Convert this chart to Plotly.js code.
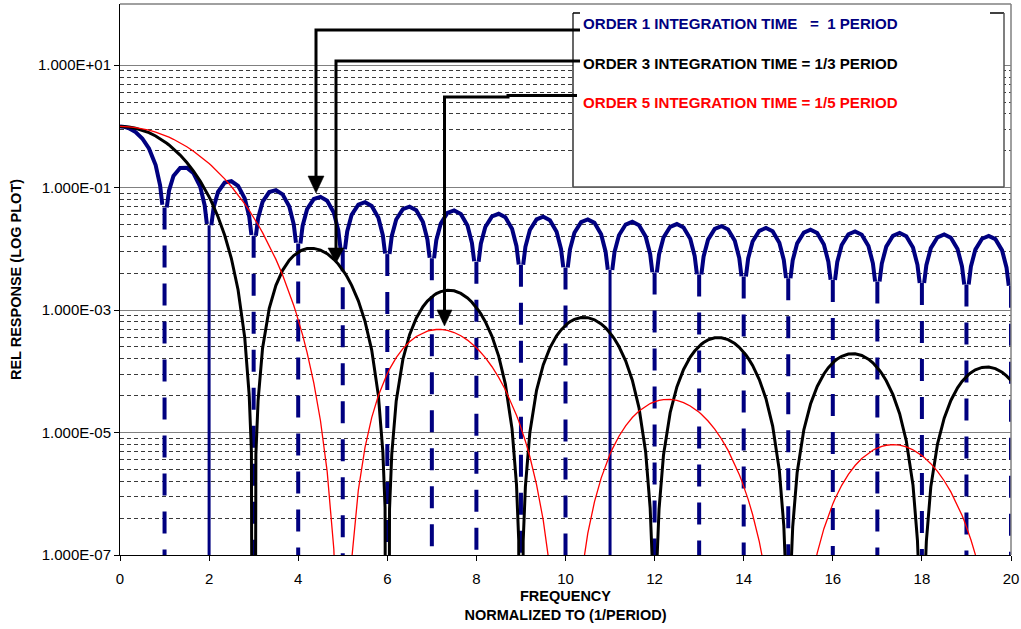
<!DOCTYPE html>
<html>
<head>
<meta charset="utf-8">
<script src="https://cdn.plot.ly/plotly-3.0.1.min.js"></script>
<style>
html,body{margin:0;padding:0;background:#ffffff;}
#chart{width:1021px;height:629px;}
</style>
</head>
<body>
<div id="chart"></div>
<script>
// ---------------- DATA ----------------
const freq = [
0,0.05,0.1,0.2,0.35,0.5,0.65,0.8,0.9,0.95,
1,1.05,1.1,1.2,1.35,1.5,1.65,1.8,1.9,1.95,
2,2.05,2.1,2.2,2.35,2.5,2.65,2.8,2.9,2.95,
3,3.05,3.1,3.2,3.35,3.5,3.65,3.8,3.9,3.95,
4,4.05,4.1,4.2,4.35,4.5,4.65,4.8,4.9,4.95,
5,5.05,5.1,5.2,5.35,5.5,5.65,5.8,5.9,5.95,
6,6.05,6.1,6.2,6.35,6.5,6.65,6.8,6.9,6.95,
7,7.05,7.1,7.2,7.35,7.5,7.65,7.8,7.9,7.95,
8,8.05,8.1,8.2,8.35,8.5,8.65,8.8,8.9,8.95,
9,9.05,9.1,9.2,9.35,9.5,9.65,9.8,9.9,9.95,
10,10.05,10.1,10.2,10.35,10.5,10.65,10.8,10.9,10.95,
11,11.05,11.1,11.2,11.35,11.5,11.65,11.8,11.9,11.95,
12,12.05,12.1,12.2,12.35,12.5,12.65,12.8,12.9,12.95,
13,13.05,13.1,13.2,13.35,13.5,13.65,13.8,13.9,13.95,
14,14.05,14.1,14.2,14.35,14.5,14.65,14.8,14.9,14.95,
15,15.05,15.1,15.2,15.35,15.5,15.65,15.8,15.9,15.95,
16,16.05,16.1,16.2,16.35,16.5,16.65,16.8,16.9,16.95,
17,17.05,17.1,17.2,17.35,17.5,17.65,17.8,17.9,17.95,
18,18.05,18.1,18.2,18.35,18.5,18.65,18.8,18.9,18.95,
19,19.05,19.1,19.2,19.35,19.5,19.65,19.8,19.9,19.95,
20];

// ORDER 1 (integration time = 1 period)
const order1 = [
1,0.9959,0.9836,0.9355,0.8103,0.6366,0.4363,0.2339,0.1093,0.05241,
1e-20,0.04742,0.08942,0.1559,0.2101,0.2122,0.1719,0.1039,0.05177,0.02554,
1e-20,0.02429,0.04684,0.08505,0.1207,0.1273,0.1070,0.06682,0.03392,0.01688,
1e-20,0.01633,0.03173,0.05847,0.08466,0.09095,0.07770,0.04924,0.02522,0.01261,
1e-20,0.01229,0.02399,0.04455,0.06520,0.07074,0.06099,0.03898,0.02007,0.01006,
1e-20,0.00986,0.01929,0.03598,0.05301,0.05787,0.05020,0.03226,0.01667,0.00837,
1e-20,0.00823,0.01613,0.03018,0.04466,0.04897,0.04265,0.02751,0.01426,0.00716,
1e-20,0.00706,0.01385,0.02599,0.03859,0.04244,0.03707,0.02399,0.01245,0.00626,
1e-20,0.00619,0.01214,0.02282,0.03397,0.03745,0.03279,0.02126,0.01105,0.00556,
1e-20,0.00550,0.01081,0.02034,0.03033,0.03351,0.02939,0.01909,0.00994,0.00500,
1e-20,0.00495,0.00974,0.01834,0.02740,0.03032,0.02663,0.01732,0.00902,0.00455,
1e-20,0.00451,0.00886,0.01671,0.02499,0.02768,0.02434,0.01586,0.00827,0.00417,
1e-20,0.00413,0.00813,0.01534,0.02297,0.02546,0.02242,0.01462,0.00763,0.00385,
1e-20,0.00382,0.00751,0.01417,0.02124,0.02358,0.02078,0.01356,0.00708,0.00357,
1e-20,0.00354,0.00698,0.01318,0.01976,0.02195,0.01936,0.01264,0.00660,0.00333,
1e-20,0.00331,0.00651,0.01231,0.01848,0.02054,0.01812,0.01184,0.00619,0.00312,
1e-20,0.00310,0.00611,0.01155,0.01735,0.01929,0.01703,0.01114,0.00582,0.00294,
1e-20,0.00292,0.00575,0.01088,0.01635,0.01819,0.01607,0.01051,0.00550,0.00277,
1e-20,0.00276,0.00543,0.01028,0.01546,0.01721,0.01521,0.00995,0.00520,0.00263,
1e-20,0.00261,0.00515,0.00974,0.01466,0.01632,0.01443,0.00945,0.00494,0.00250,
1e-20];

// ORDER 3 (integration time = 1/3 period)
const order3 = [
1,0.9986,0.9945,0.9783,0.9348,0.8708,0.7903,0.6980,0.6325,0.5991,
0.5656,0.5321,0.4988,0.4335,0.3410,0.2580,0.1868,0.1284,0.09679,0.08307,
0.07070,0.05963,0.04979,0.03356,0.01672,0.006966,0.002154,3.565e-4,4.078e-5,4.863e-6,
1e-20,4.400e-6,3.338e-5,2.388e-4,1.066e-3,2.539e-3,4.463e-3,6.513e-3,7.773e-3,8.335e-3,
8.837e-3,9.272e-3,9.633e-3,1.011e-2,1.019e-2,9.556e-3,8.345e-3,6.773e-3,5.643e-3,5.079e-3,
4.525e-3,3.989e-3,3.476e-3,2.542e-3,1.417e-3,6.542e-4,2.222e-4,4.011e-5,4.842e-6,5.926e-7,
1e-20,5.637e-7,4.382e-6,3.284e-5,1.565e-4,3.964e-4,7.380e-4,1.137e-3,1.404e-3,1.530e-3,
1.649e-3,1.758e-3,1.855e-3,2.007e-3,2.113e-3,2.064e-3,1.874e-3,1.579e-3,1.347e-3,1.226e-3,
1.105e-3,9.847e-4,8.676e-4,6.482e-4,3.728e-4,1.772e-4,6.192e-5,1.148e-5,1.411e-6,1.741e-7,
1e-20,1.684e-7,1.320e-6,1.005e-5,4.903e-5,1.270e-4,2.415e-4,3.797e-4,4.752e-4,5.215e-4,
5.656e-4,6.068e-4,6.444e-4,7.059e-4,7.568e-4,7.522e-4,6.946e-4,5.947e-4,5.127e-4,4.692e-4,
4.249e-4,3.807e-4,3.372e-4,2.544e-4,1.484e-4,7.157e-5,2.535e-5,4.764e-6,5.902e-7,7.315e-8,
1e-20,7.134e-8,5.614e-7,4.310e-6,2.128e-5,5.573e-5,1.072e-4,1.704e-4,2.148e-4,2.365e-4,
2.574e-4,2.772e-4,2.953e-4,3.257e-4,3.526e-4,3.539e-4,3.299e-4,2.850e-4,2.472e-4,2.269e-4,
2.061e-4,1.852e-4,1.645e-4,1.248e-4,7.345e-5,3.571e-5,1.275e-5,2.414e-6,3.006e-7,3.736e-8,
1e-20,3.662e-8,2.889e-7,2.229e-6,1.108e-5,2.923e-5,5.662e-5,9.061e-5,1.147e-4,1.266e-4,
1.381e-4,1.490e-4,1.591e-4,1.762e-4,1.920e-4,1.938e-4,1.818e-4,1.580e-4,1.375e-4,1.265e-4,
1.151e-4,1.036e-4,9.221e-5,7.024e-5,4.155e-5,2.031e-5,7.289e-6,1.388e-6,1.734e-7,2.158e-8,
1e-20,2.123e-8,1.677e-7,1.298e-6,6.486e-6,1.719e-5,3.346e-5,5.378e-5,6.830e-5,7.548e-5,
8.246e-5,8.910e-5,9.528e-5,1.058e-4,1.158e-4,1.174e-4,1.106e-4,9.650e-5,8.425e-5,7.758e-5,
7.070e-5];

// ORDER 5 (integration time = 1/5 period)
const order5 = [
1,0.99918,0.99672,0.98690,0.96044,0.92079,0.86955,0.80868,0.76385,0.74043,
0.71646,0.69201,0.66723,0.61689,0.54081,0.46605,0.39449,0.32777,0.28657,0.26706,
0.24830,0.23033,0.21315,0.18121,0.13935,0.10457,0.076423,0.054263,0.042442,0.037326,
0.032698,0.028528,0.024786,0.018459,0.011435,0.0067383,0.0037433,0.0019374,0.0011910,9.1848e-4,
6.9966e-4,5.2581e-4,3.8933e-4,2.0276e-4,6.4777e-5,1.5594e-5,2.3203e-6,1.2394e-7,3.5287e-9,1.0505e-10,
1e-20,9.507e-11,2.8890e-9,8.3061e-8,1.1509e-6,5.7174e-6,1.7524e-5,4.0373e-5,6.3091e-5,7.6827e-5,
9.2139e-5,1.0897e-4,1.2723e-4,1.6756e-4,2.3489e-4,3.0501e-4,3.7098e-4,4.2597e-4,4.5368e-4,4.6436e-4,
4.7276e-4,4.7883e-4,4.8248e-4,4.8264e-4,4.6561e-4,4.3032e-4,3.8120e-4,3.2345e-4,2.8291e-4,2.6260e-4,
2.4249e-4,2.2274e-4,2.0351e-4,1.6705e-4,1.1886e-4,7.9761e-5,5.0078e-5,2.9087e-5,1.9244e-5,1.5381e-5,
1.2133e-5,9.4375e-6,7.2280e-6,4.0204e-6,1.4120e-6,3.7173e-7,6.0282e-8,3.4933e-9,1.0479e-10,3.202e-12,
1e-20,3.046e-12,9.484e-11,2.8604e-9,4.2474e-8,2.2539e-7,7.3638e-7,1.8034e-6,2.9318e-6,3.6394e-6,
4.4488e-6,5.3612e-6,6.3773e-6,8.7102e-6,1.2875e-5,1.7596e-5,2.2481e-5,2.7071e-5,2.9734e-5,3.0897e-5,
3.1932e-5,3.2822e-5,3.3561e-5,3.4553e-5,3.4762e-5,3.3462e-5,3.0831e-5,2.7180e-5,2.4369e-5,2.2895e-5,
2.1399e-5,1.9893e-5,1.8393e-5,1.5455e-5,1.1377e-5,7.8926e-6,5.1176e-6,3.0670e-6,2.0709e-6,1.6718e-6,
1.3322e-6,1.0464e-6,8.0934e-7,4.5895e-7,1.6580e-7,4.4890e-8,7.4691e-9,4.448e-10,1.357e-11,4.18e-13,
1e-20,4.04e-13,1.270e-11,3.892e-10,5.9193e-9,3.2163e-8,1.0748e-7,2.6913e-7,4.4386e-7,5.5502e-7,
6.8328e-7,8.2913e-7,9.9322e-7,1.3757e-6,2.0755e-6,2.8939e-6,3.7707e-6,4.6279e-6,5.1470e-6,5.3819e-6,
5.5960e-6,5.7877e-6,5.9536e-6,6.2037e-6,6.3525e-6,6.2218e-6,5.8308e-6,5.2262e-6,4.7369e-6,4.4750e-6,
4.2052e-6,3.9298e-6,3.6526e-6,3.1016e-6,2.3189e-6,1.6332e-6,1.0748e-6,6.5365e-7,4.4560e-7,3.6130e-7,
2.8934e-7,2.2830e-7,1.7744e-7,1.0156e-7,3.7194e-8,1.0196e-8,1.722e-9,1.038e-10,3.194e-12,9.88e-14,
1e-20];

// Axis ticks / labels
const xTickVals = [0,2,4,6,8,10,12,14,16,18,20];
const yTickVals = [1e-7,1e-5,1e-3,1e-1,1e1];
const yTickText = ['1.000E-07','1.000E-05','1.000E-03','1.000E-01','1.000E+01'];
const yMinorVals = [
4e-7,9e-7,1.6e-6,2.5e-6,3.6e-6,4.9e-6,6.4e-6,8.1e-6,
4e-5,9e-5,1.6e-4,2.5e-4,3.6e-4,4.9e-4,6.4e-4,8.1e-4,
4e-3,9e-3,1.6e-2,2.5e-2,3.6e-2,4.9e-2,6.4e-2,8.1e-2,
0.4,0.9,1.6,2.5,3.6,4.9,6.4,8.1];
const legendTexts = [
'ORDER 1 INTEGRATION TIME\u00a0\u00a0\u00a0=\u00a0\u00a01 PERIOD',
'ORDER 3 INTEGRATION TIME = 1/3 PERIOD',
'ORDER 5 INTEGRATION TIME = 1/5 PERIOD'];
const xTitle = 'FREQUENCY<br>NORMALIZED TO (1/PERIOD)';
const yTitle = 'REL RESPONSE (LOG PLOT)';

// ---------------- STYLE ----------------
const FONT = 'Liberation Sans, Arial, Helvetica, sans-serif';
const NAVY = '#000080', BLACK = '#000000', RED = '#ff0000';
const solidZeros = [2, 11];   // nulls of order 1 drawn as solid drops (others dashed)

// ---------------- BUILD TRACES ----------------
const ZERO_LIMIT = 1e-15;
const lobeY = order1.map(v => (v < ZERO_LIMIT ? null : v));
const dropSolid = {x: [], y: []};
const dropDash = {x: [], y: []};
order1.forEach((v, i) => {
  if (i === 0 || v >= ZERO_LIMIT) return;
  const prev = order1[i - 1];
  const next = i + 1 < order1.length ? order1[i + 1] : prev;
  const top = Math.min(prev, next);
  const t = solidZeros.includes(freq[i]) ? dropSolid : dropDash;
  t.x.push(freq[i], freq[i], null);
  t.y.push(top, v, null);
});

const traces = [
  {x: freq, y: lobeY, mode: 'lines', line: {color: NAVY, width: 4}, hoverinfo: 'skip'},
  {x: dropDash.x, y: dropDash.y, mode: 'lines', line: {color: NAVY, width: 4, dash: '22px,16px'}, hoverinfo: 'skip'},
  {x: dropSolid.x, y: dropSolid.y, mode: 'lines', line: {color: NAVY, width: 3}, hoverinfo: 'skip'},
  {x: freq, y: order3, mode: 'lines', line: {color: BLACK, width: 3}, hoverinfo: 'skip'},
  {x: freq, y: order5, mode: 'lines', line: {color: RED, width: 1.3}, hoverinfo: 'skip'}
];

// ---------------- LAYOUT ----------------
const W = 1021, H = 629, ML = 120, MR = 10, MT = 4, MB = 74;
const PW = W - ML - MR, PH = H - MT - MB;
const P = px => (px - ML) / PW;          // pixel x -> paper
const Q = py => (H - MB - py) / PH;      // pixel y -> paper
const line = (x0, y0, x1, y1, color, width) => ({type: 'line', xref: 'paper', yref: 'paper',
  x0: P(x0), y0: Q(y0), x1: P(x1), y1: Q(y1), line: {color: color, width: width}, layer: 'above'});
const path = (pts, close, color, width) => {
  let d = pts.map((p, k) => (k ? 'L ' : 'M ') + P(p[0]).toFixed(5) + ' ' + Q(p[1]).toFixed(5)).join(' ');
  if (close) d += ' Z';
  return {type: 'path', xref: 'paper', yref: 'paper', path: d, layer: 'above',
    line: {color: color, width: close ? 0.5 : width}, fillcolor: close ? color : 'rgba(0,0,0,0)'};
};

const shapes = [
  // legend box (white, hides the grid)
  {type: 'rect', xref: 'paper', yref: 'paper', x0: P(573), x1: P(1004), y0: Q(187), y1: Q(13),
   fillcolor: '#ffffff', line: {width: 0}, layer: 'above'},
  line(573, 13, 573, 187, '#000000', 1.2),
  line(573, 13, 580, 13, '#000000', 1.5),
  line(990, 13, 1004, 13, '#000000', 1.5),
  line(1004, 13, 1004, 187, '#555555', 1.5),
  line(573, 187, 1004, 187, '#555555', 1.5),
  // plot frame top/right
  line(120, 4, 1011, 4, '#808080', 1.5),
  line(1011, 4, 1011, 555, '#808080', 1.5),
  // arrows
  path([[580, 30], [316, 30], [316, 180]], false, BLACK, 3),
  path([[316, 193], [308, 176], [324, 176]], true, BLACK),
  path([[580, 61], [336, 61], [336, 252]], false, BLACK, 3),
  path([[336, 263], [328, 248], [344, 248]], true, BLACK),
  path([[577, 95.5], [508, 95.5], [508, 97], [444.5, 97], [444.5, 312]], false, BLACK, 3),
  path([[444.5, 326], [437, 310], [452, 310]], true, BLACK)
];

const legendColors = [NAVY, BLACK, RED];
const legendY = [23.5, 63, 102.5];
const annotations = legendTexts.map((t, k) => ({
  xref: 'paper', yref: 'paper', x: P(581), y: Q(legendY[k]), xanchor: 'left', yanchor: 'middle',
  text: '<b>' + t + '</b>', showarrow: false, font: {family: FONT, size: 15.1, color: legendColors[k]}
}));

const layout = {
  width: W, height: H,
  margin: {l: ML, r: MR, t: MT, b: MB, pad: 0},
  paper_bgcolor: '#ffffff', plot_bgcolor: '#ffffff',
  showlegend: false,
  font: {family: FONT, size: 15, color: '#000000'},
  xaxis: {
    range: [0, 20], tickmode: 'array', tickvals: xTickVals,
    ticks: 'outside', ticklen: 5, tickcolor: '#000000', tickwidth: 1,
    showline: true, linecolor: '#000000', linewidth: 1,
    showgrid: false, zeroline: false,
    tickfont: {family: FONT, size: 15, color: '#000000'},
    ticklabelstandoff: 5,
    title: {text: '<b>' + xTitle + '</b>', font: {family: FONT, size: 14.5, color: '#000000'}, standoff: 4}
  },
  yaxis: {
    type: 'log', range: [-7, 2], tickmode: 'array', tickvals: yTickVals, ticktext: yTickText,
    ticks: 'outside', ticklen: 5, tickcolor: '#000000', tickwidth: 1,
    showline: true, linecolor: '#000000', linewidth: 1,
    showgrid: true, gridcolor: '#808080', gridwidth: 1, zeroline: false,
    tickfont: {family: FONT, size: 15, color: '#000000'},
    minor: {tickmode: 'array', tickvals: yMinorVals, showgrid: true, gridcolor: '#3a3a3a',
            gridwidth: 1, griddash: '4px,3px', ticks: ''},
    title: {text: '<b>' + yTitle + '</b>', font: {family: FONT, size: 14.5, color: '#000000'}, standoff: 12}
  },
  shapes: shapes,
  annotations: annotations
};

Plotly.newPlot('chart', traces, layout, {staticPlot: true, displayModeBar: false});
</script>
</body>
</html>
